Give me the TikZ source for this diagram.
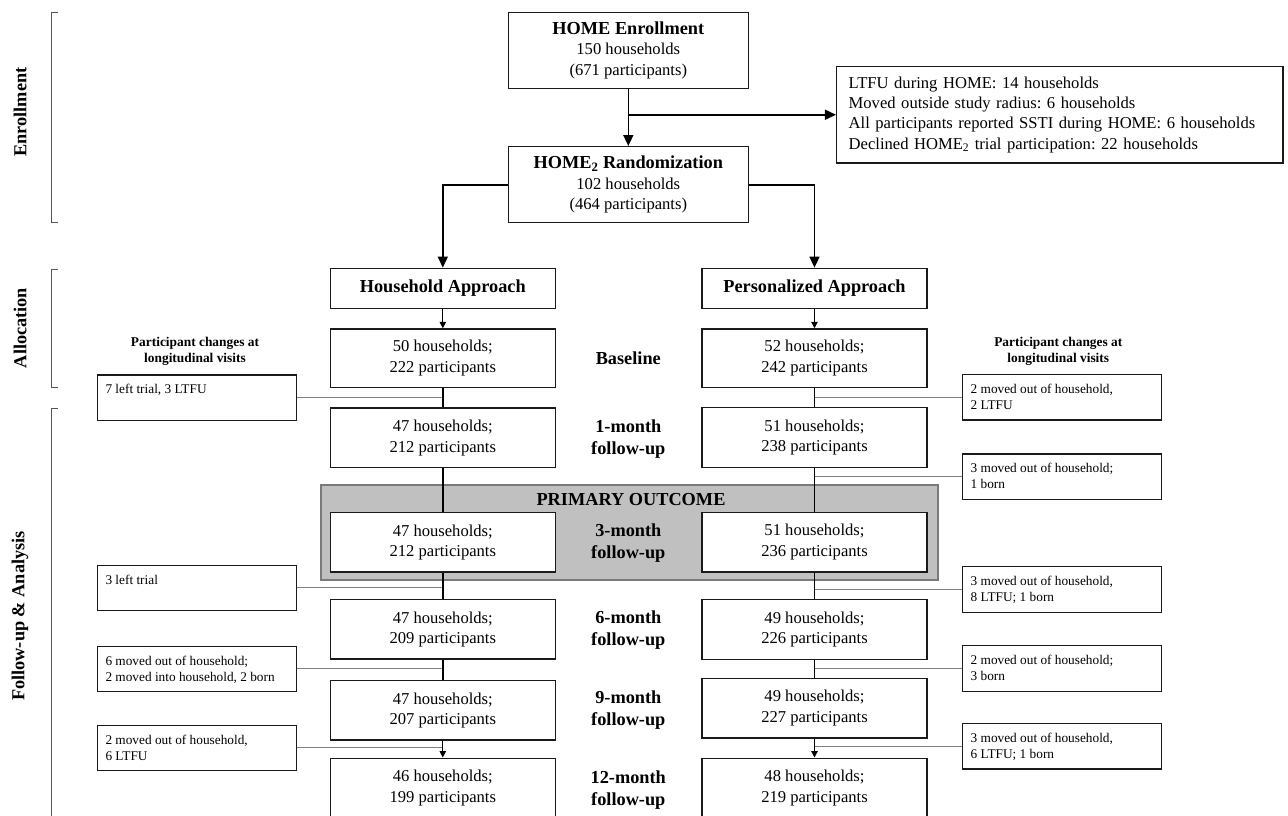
\documentclass[tikz,border=0pt]{standalone}
\usepackage{fontspec}
\setmainfont{Liberation Serif}
\usetikzlibrary{arrows.meta}
\definecolor{boxline}{HTML}{1A1A1A}
\definecolor{sideline}{HTML}{808080}
\definecolor{pofill}{HTML}{C0C0C0}
\definecolor{poline}{HTML}{7A7A7A}
\definecolor{brk}{HTML}{555555}
\frenchspacing
\newcommand{\mainfs}{\fontsize{16.6}{20.6}\selectfont}
\newcommand{\headfs}{\fontsize{18.3}{22}\selectfont\bfseries}
\newcommand{\smallfs}{\fontsize{13.3}{16}\selectfont}
\newcommand{\smallbf}{\fontsize{13.4}{16}\selectfont\bfseries}
\newcommand{\sidetxt}[1]{\parbox[c][45.5pt][t]{183pt}{\raggedright\rule{0pt}{19pt}#1}}
\tikzset{
  mainbox/.style={draw=boxline, line width=1.4pt, fill=white, minimum width=225pt, inner sep=0pt, align=center, font=\mainfs},
  homebox/.style={mainbox, minimum width=240pt, minimum height=76pt},
  sidebox/.style={draw=boxline, line width=1.3pt, fill=white, inner xsep=8pt, inner ysep=0pt, font=\smallfs},
  conn/.style={line width=1.6pt, draw=black},
  thinconn/.style={line width=1.2pt, draw=black},
  sideconn/.style={line width=1pt, draw=sideline},
  bigtip/.style={-{Triangle[length=11pt,width=10pt]}},
  smalltip/.style={-{Triangle[length=6.5pt,width=6.5pt]}},
  phase/.style={font=\headfs, rotate=90, inner sep=0pt},
  midlabel/.style={font=\headfs, align=center, inner sep=0pt},
  brack/.style={draw=brk, line width=0.9pt}
}
\begin{document}
\begin{tikzpicture}[x=1pt, y=-1pt]
\useasboundingbox (0,0) rectangle (1288,815);

% phase brackets
\draw[brack] (57.5,12.3) -- (51.7,12.3) -- (51.7,222.7) -- (57.5,222.7);
\draw[brack] (57.5,269.3) -- (51.7,269.3) -- (51.7,387.3) -- (57.5,387.3);
\draw[brack] (57.5,408.7) -- (51.7,408.7) -- (51.7,830);
\node[phase] (phE) at (20,112) {Enrollment};
\node[phase] (phA) at (20,328) {Allocation};
\node[phase] (phF) at (20,616) {Follow-up \& Analysis};

% primary outcome band
\node[draw=poline, line width=2pt, fill=pofill, minimum width=616.7pt, minimum height=95.5pt, inner sep=0pt] (po) at (629.35,532.25) {};
\node[font=\headfs, inner sep=0pt] (potxt) at (631,499.3) {PRIMARY OUTCOME};

% top boxes
\node[homebox] (home) at (628.3,50.3) {{\headfs HOME Enrollment}\\150 households\\(671 participants)};
\node[homebox] (rand) at (628.3,184.7) {{\headfs HOME\textsubscript{2} Randomization}\\102 households\\(464 participants)};
\node[draw=boxline, line width=1.4pt, fill=white, minimum width=446.3pt, minimum height=96.5pt, inner xsep=12pt, inner ysep=0pt, text width=422.3pt, align=left, font=\fontsize{16.6}{20.2}\selectfont] (excl) at (1059.8,114.75)
  {LTFU during HOME: 14 households\\Moved outside study radius: 6 households\\All participants reported SSTI during HOME: 6 households\\Declined HOME\textsubscript{2} trial participation: 22 households};

% allocation
\node[mainbox, minimum height=40pt] (H0) at (442.8,288.3) {\headfs Household Approach};
\node[mainbox, minimum height=40pt] (P0) at (814.5,288.3) {\headfs Personalized Approach};

% column boxes
\node[mainbox, minimum height=58.5pt] (Hb) at (442.8,358.2) {50 households;\\222 participants};
\node[mainbox, minimum height=58.5pt] (Pb) at (814.5,358.2) {52 households;\\242 participants};
\node[mainbox, minimum height=59.5pt] (H1) at (442.8,437.8) {47 households;\\212 participants};
\node[mainbox, minimum height=59.5pt] (P1) at (814.5,437.5) {51 households;\\238 participants};
\node[mainbox, minimum height=59.3pt] (H3) at (442.8,542.4) {47 households;\\212 participants};
\node[mainbox, minimum height=59.3pt] (P3) at (814.5,542.2) {51 households;\\236 participants};
\node[mainbox, minimum height=59.5pt] (H6) at (442.8,629.3) {47 households;\\209 participants};
\node[mainbox, minimum height=59.5pt] (P6) at (814.5,629.5) {49 households;\\226 participants};
\node[mainbox, minimum height=59.3pt] (H9) at (442.8,710.3) {47 households;\\207 participants};
\node[mainbox, minimum height=59.3pt] (P9) at (814.5,708.2) {49 households;\\227 participants};
\node[mainbox, minimum height=59pt] (H12) at (442.8,787.7) {46 households;\\199 participants};
\node[mainbox, minimum height=59pt] (P12) at (814.5,787.7) {48 households;\\219 participants};

% middle labels
\node[midlabel] (tb) at (628.3,358.5) {Baseline};
\node[midlabel] (t1) at (628.3,439.5) {1-month\\follow-up};
\node[midlabel] (t3) at (628.3,543) {3-month\\follow-up};
\node[midlabel] (t6) at (628.3,630) {6-month\\follow-up};
\node[midlabel] (t9) at (628.3,710) {9-month\\follow-up};
\node[midlabel] (t12) at (628.3,790) {12-month\\follow-up};

% side headings
\node[font=\smallbf, align=center, inner sep=0pt] (sl) at (195,351) {Participant changes at\\longitudinal visits};
\node[font=\smallbf, align=center, inner sep=0pt] (sr) at (1058.3,351) {Participant changes at\\longitudinal visits};

% side boxes
\node[sidebox] (L1) at (197,397.7) {\sidetxt{7 left trial, 3 LTFU}};
\node[sidebox] (L2) at (197,587.9) {\sidetxt{3 left trial}};
\node[sidebox] (L3) at (197,668.9) {\sidetxt{6 moved out of household;\\2 moved into household, 2 born}};
\node[sidebox] (L4) at (197,747.9) {\sidetxt{2 moved out of household,\\6 LTFU}};
\node[sidebox] (R1) at (1062.2,397.2) {\sidetxt{2 moved out of household,\\2 LTFU}};
\node[sidebox] (R2) at (1062.2,476.7) {\sidetxt{3 moved out of household;\\1 born}};
\node[sidebox] (R3) at (1062.2,589.5) {\sidetxt{3 moved out of household,\\8 LTFU; 1 born}};
\node[sidebox] (R4) at (1062.2,668.4) {\sidetxt{2 moved out of household;\\3 born}};
\node[sidebox] (R5) at (1062.2,746.2) {\sidetxt{3 moved out of household,\\6 LTFU; 1 born}};

% side connectors
\draw[sideconn] (L1.east) -- (L1.east -| H0.south);
\draw[sideconn] (L2.east) -- (L2.east -| H0.south);
\draw[sideconn] (L3.east) -- (L3.east -| H0.south);
\draw[sideconn] (L4.east) -- (L4.east -| H0.south);
\draw[sideconn] (R1.west) -- (R1.west -| P0.south);
\draw[sideconn] (R2.west) -- (R2.west -| P0.south);
\draw[sideconn] (R3.west) -- (R3.west -| P0.south);
\draw[sideconn] (R4.west) -- (R4.west -| P0.south);
\draw[sideconn] (R5.west) -- (R5.west -| P0.south);

% main connectors
\draw[conn, bigtip] (home) -- (rand);
\draw[conn, bigtip] (home.south |- excl.west) -- (excl.west);
\draw[conn, bigtip] (rand.west) -| (H0.north);
\draw[conn, bigtip] (rand.east) -| (P0.north);
\draw[thinconn, smalltip] (H0) -- (Hb);
\draw[thinconn, smalltip] (P0) -- (Pb);
\draw[conn] (Hb) -- (H1);
\draw[conn] (H1) -- (H3);
\draw[conn] (H3) -- (H6);
\draw[conn] (H6) -- (H9);
\draw[thinconn, smalltip] (H9) -- (H12);
\draw[conn] (Pb) -- (P1);
\draw[conn] (P1) -- (P3);
\draw[conn] (P3) -- (P6);
\draw[conn] (P6) -- (P9);
\draw[thinconn, smalltip] (P9) -- (P12);
\end{tikzpicture}
\end{document}
